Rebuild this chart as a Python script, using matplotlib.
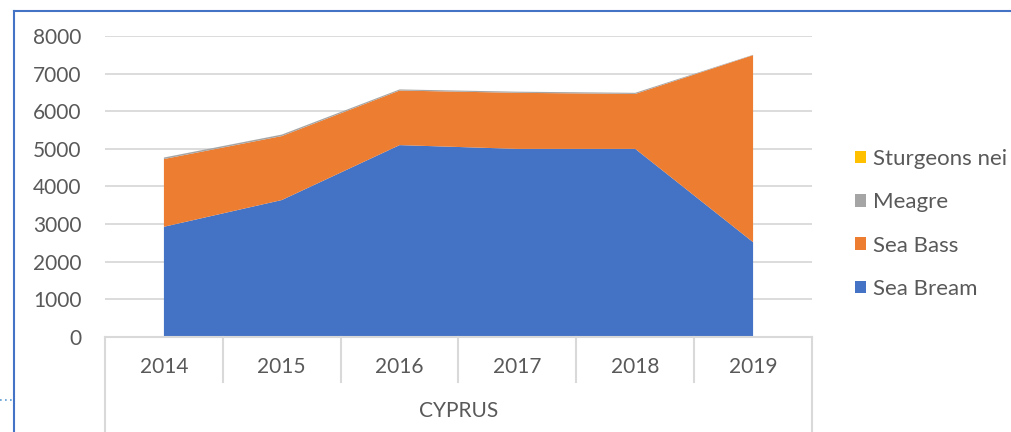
import matplotlib
matplotlib.use("Agg")
import matplotlib.pyplot as plt
from matplotlib.lines import Line2D
from matplotlib.patches import Patch
from matplotlib.transforms import blended_transform_factory
import numpy as np

years = ["2014", "2015", "2016", "2017", "2018", "2019"]
country = "CYPRUS"
sea_bream = [2930, 3640, 5100, 5000, 5000, 2520]
sea_bass = [1800, 1700, 1450, 1490, 1460, 4970]
meagre = [40, 40, 30, 30, 30, 10]
sturgeons = [0, 0, 0, 0, 0, 0]
series_names = ["Sea Bream", "Sea Bass", "Meagre", "Sturgeons nei"]
colors = ["#4472C4", "#ED7D31", "#A5A5A5", "#FFC000"]
yticks = [0, 1000, 2000, 3000, 4000, 5000, 6000, 7000, 8000]

plt.rcParams['font.family'] = ['Lato', 'DejaVu Sans']
TXT = "#595959"
GRID = "#D9D9D9"

W, H = 1012, 432
fig = plt.figure(figsize=(W / 100, H / 100), dpi=100)
ax = fig.add_axes([105 / W, 1 - 337 / H, (812 - 105) / W, (337 - 36) / H])

x = np.arange(len(years))
ax.stackplot(x, sea_bream, sea_bass, meagre, sturgeons, colors=colors, linewidth=0)
ax.set_xlim(-0.5, len(years) - 0.5)
ax.set_ylim(0, 8000)
ax.set_yticks(yticks)
ax.set_yticklabels([str(v) for v in yticks], color=TXT, fontsize=15)
ax.tick_params(axis='y', length=0, pad=17)
ax.set_xticks([])
ax.yaxis.grid(True, color=GRID, linewidth=1.3)
ax.set_axisbelow(True)
for s in ax.spines.values():
    s.set_visible(False)

# multi-level category axis
trans = blended_transform_factory(ax.transData, fig.transFigure)
def fy(py):
    return 1 - py / H
fig.add_artist(Line2D([-0.5, len(years) - 0.5], [fy(337), fy(337)], transform=trans, color=GRID, lw=1.5))
for i in range(1, len(years)):
    fig.add_artist(Line2D([i - 0.5, i - 0.5], [fy(337), fy(382)], transform=trans, color=GRID, lw=1.5))
for b in [-0.5, len(years) - 0.5]:
    fig.add_artist(Line2D([b, b], [fy(337), fy(432)], transform=trans, color=GRID, lw=1.5))
for i, yr in enumerate(years):
    fig.text(i, fy(367), yr, transform=trans, ha='center', va='center', color=TXT, fontsize=15)
fig.text((len(years) - 1) / 2, fy(411), country, transform=trans, ha='center', va='center', color=TXT, fontsize=15)

# legend
handles = [Patch(facecolor=colors[i], edgecolor='none') for i in range(len(series_names))][::-1]
labels = series_names[::-1]
leg = fig.legend(handles, labels, loc='center left', bbox_to_anchor=(835 / W, 1 - 224 / H),
                 frameon=False, fontsize=16, labelcolor=TXT, handlelength=0.5, handleheight=0.5,
                 handletextpad=0.32, labelspacing=1.05)

# chart frame (blue lines)
fig.add_artist(Line2D([14 / W, 14 / W], [0, fy(11)], color="#4472C4", lw=1.5))
fig.add_artist(Line2D([14 / W, 1], [fy(11), fy(11)], color="#4472C4", lw=1.5))
fig.add_artist(Line2D([0, 12 / W], [fy(400), fy(400)], color="#5B9BD5", lw=1.2, linestyle=(0, (1, 2))))

fig.savefig("out.png", dpi=100)
